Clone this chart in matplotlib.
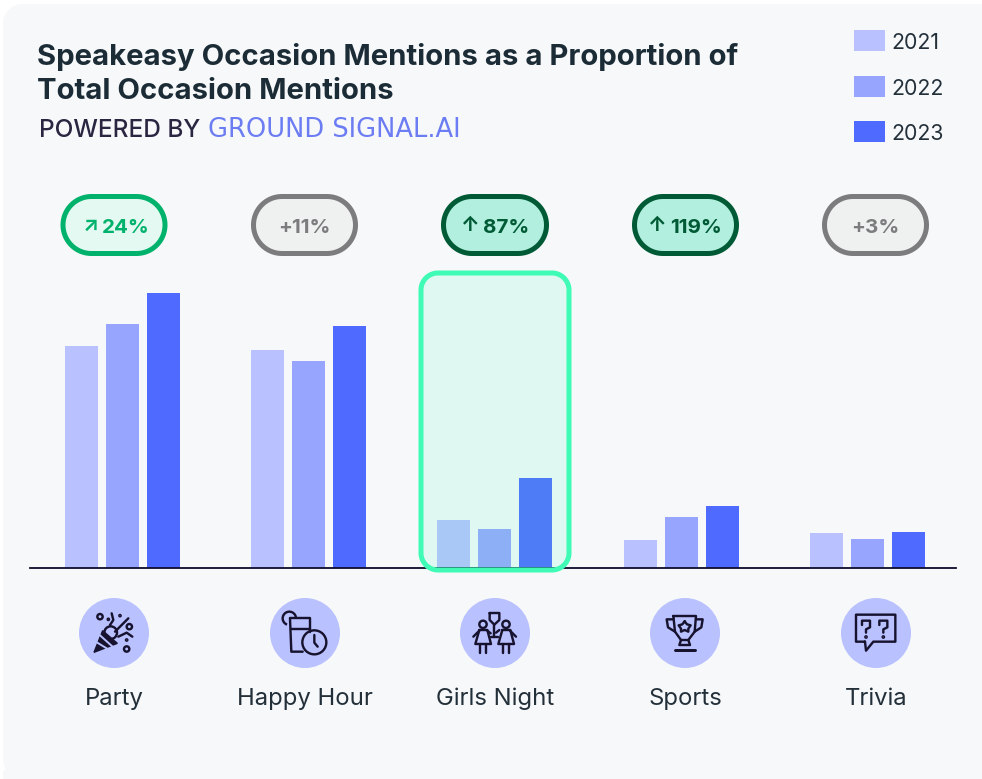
import matplotlib
matplotlib.use("Agg")
import matplotlib.pyplot as plt
import numpy as np
from matplotlib.patches import Circle, Rectangle, Polygon, Arc

plt.rcParams['font.family'] = ['Inter', 'DejaVu Sans']

# ---- data ----
categories = ["Party", "Happy Hour", "Girls Night", "Sports", "Trivia"]
years = ["2021", "2022", "2023"]
values_2021 = [22.2, 21.8, 4.8, 2.8, 3.5]
values_2022 = [24.4, 20.7, 3.9, 5.1, 2.9]
values_2023 = [27.5, 24.2, 9.0, 6.2, 3.6]
changes = ["24%", "+11%", "87%", "119%", "+3%"]
arrows = ["↗", "", "↑", "↑", ""]
title_lines = ["Speakeasy Occasion Mentions as a Proportion of", "Total Occasion Mentions"]

YEAR_COLORS = ["#b9c1ff", "#98a5ff", "#4f6bff"]
INK = "#17132f"
W, H = 982, 779
fig = plt.figure(figsize=(W / 100, H / 100), dpi=100, facecolor="white")
PX = 0.72  # points per pixel


def pixel_axes(z):
    a = fig.add_axes([0, 0, 1, 1], zorder=z)
    a.set_xlim(0, W)
    a.set_ylim(H, 0)
    a.axis("off")
    a.patch.set_alpha(0)
    return a


def round_rect(x0, y0, x1, y1, r, **kw):
    """Rounded rectangle with true circular corners."""
    t = np.linspace(0, np.pi / 2, 24)
    pts = []
    for cx, cy, a in [(x1 - r, y0 + r, -np.pi / 2), (x1 - r, y1 - r, 0),
                      (x0 + r, y1 - r, np.pi / 2), (x0 + r, y0 + r, np.pi)]:
        pts += [(cx + r * np.cos(a + s), cy + r * np.sin(a + s)) for s in t]
    return Polygon(pts, closed=True, **kw)


bg = pixel_axes(0)
bg.add_patch(round_rect(3, 4, 1040, 779, 20, fc="#f6f8fa", ec="none"))
bg.add_patch(Rectangle((3, 770), 1040, 10, fc="#f6f8fa", ec="none"))

# ---- bars, drawn through a data axes whose baseline is y=0 ----
base_y, top_y = 568, 180
left, right = 30, 956
ax = fig.add_axes([left / W, 1 - base_y / H, (right - left) / W, (base_y - top_y) / H], zorder=1)
ax.patch.set_alpha(0)
x0, step = 122.5, 186.25
ax.set_xlim((left - x0) / step, (right - x0) / step)
ax.set_ylim(0, (base_y - top_y) / 10)
for side in ("top", "left", "right"):
    ax.spines[side].set_visible(False)
ax.spines["bottom"].set_color("#0c0c2c")
ax.spines["bottom"].set_linewidth(1.5 * PX * 1.2)
ax.set_xticks([])
ax.set_yticks([])
bw = 33 / step
off = 41 / step
for k, vals in enumerate([values_2021, values_2022, values_2023]):
    ax.bar([i + (k - 1) * off for i in range(len(categories))], vals, width=bw,
           color=YEAR_COLORS[k], linewidth=0)

fg = pixel_axes(2)

# highlight box
fg.add_patch(round_rect(421, 273, 569, 570, 17,
                        fc=(63 / 255, 251 / 255, 181 / 255, 0.12), ec="#3ffbb5", lw=5 * PX))

# title
for y, line in zip([56.5, 91.5], title_lines):
    fg.text(37, y, line, fontsize=21.1, fontweight="bold", color="#1c2c36", va="center", ha="left")
fg.text(39, 130, "POWERED BY", fontsize=17.6, fontweight="medium", color="#2a2642", va="center", ha="left")
fg.text(208, 130, "GROUND SIGNAL.AI", fontsize=18.5, color="#6c7cf2", va="center", ha="left",
        family="DejaVu Sans")

# legend
for y, yr, c in zip([30, 76, 121], years, YEAR_COLORS):
    fg.add_patch(Rectangle((854, y), 31, 21, fc=c, ec="none"))
    fg.text(891, y + 13, yr, fontsize=15.3, color="#23303a", va="center", ha="left")

# pills
pill_cx = [114, 304.5, 495, 685.5, 875.5]
pill_w = [107, 107, 108, 107, 107]
text_left = [102, None, 483, 670, None]
pill_styles = [("#e5f9f3", "#00b26b"), ("#eff1f0", "#7c7c7e"), ("#b2efde", "#005a35"),
               ("#b2efde", "#005a35"), ("#eff1f0", "#7c7c7e")]
for cx, w, (fc, ec), ch, ar, tl in zip(pill_cx, pill_w, pill_styles, changes, arrows, text_left):
    fg.add_patch(round_rect(cx - w / 2 + 2.5, 196.5, cx + w / 2 - 2.5, 253.5, 28.5, fc=fc, ec=ec, lw=5 * PX))
    if tl is None:
        fg.text(cx, 228, ch, fontsize=14.8, fontweight="bold", color=ec, ha="center", va="center")
    else:
        fg.text(tl, 228, ch, fontsize=14.8, fontweight="bold", color=ec, ha="left", va="center")
        fg.text(tl - 3, 226, ar, fontsize=14.8, fontweight="bold", color=ec, ha="right", va="center")

# category circles and labels
circle_cx = [114, 305, 495, 685, 876]
for cx, name in zip(circle_cx, categories):
    fg.add_patch(Circle((cx, 633), 35, fc="#b9c1ff", ec="none"))
    fg.text(cx, 699, name, fontsize=17.2, color="#23303a", ha="center", va="center")


# icon helpers: coordinates come from the 3x crops
def L(ox, pts, lw=2.4):
    fg.plot([ox[0] + p[0] / 3 for p in pts], [ox[1] + p[1] / 3 for p in pts], color=INK,
            lw=lw * PX, solid_capstyle="round", solid_joinstyle="round")


def C(ox, p, r, fill=False, lw=2.4):
    fg.add_patch(Circle((ox[0] + p[0] / 3, ox[1] + p[1] / 3), r / 3, fc=INK if fill else "none",
                        ec=INK, lw=lw * PX))


# party popper
o = (60, 590)
fg.add_patch(Polygon([(60 + 102 / 3, 590 + 187 / 3), (60 + 128 / 3, 590 + 122 / 3), (60 + 172 / 3, 590 + 160 / 3)],
                     closed=True, fc=INK, ec=INK, lw=1))
for pts in ([(112, 158), (148, 180)], [(120, 136), (160, 172)]):
    fg.plot([60 + p[0] / 3 for p in pts], [590 + p[1] / 3 for p in pts], color="#b9c1ff", lw=1.4)
C(o, (120, 80), 8)
C(o, (208, 110), 8)
C(o, (200, 177), 8)
C(o, (152, 128), 19)
L(o, [(165, 125), (205, 85)])
L(o, [(155, 70), (160, 90), (150, 105)])
L(o, [(175, 140), (200, 128), (217, 140)])
for p in [(145, 88), (180, 77), (200, 150)]:
    C(o, p, 2, fill=True)

# glass and clock
L(o, [(690, 85), (750, 85), (750, 125)])
L(o, [(690, 85), (694, 185), (728, 185)])
L(o, [(692, 118), (750, 118)])
fg.add_patch(Arc((60 + 688 / 3, 590 + 85 / 3), 40 / 3, 40 / 3, theta1=110, theta2=360, color=INK, lw=2.4 * PX))
C(o, (763, 157), 36)
L(o, [(763, 135), (763, 158), (773, 170)])

# two women with a glass
o = (440, 590)
for dx in (0, 69):
    C(o, (129 + dx, 103), 11)
    L(o, [(118 + dx, 120), (142 + dx, 120), (153 + dx, 162), (106 + dx, 162), (118 + dx, 120)])
    L(o, [(121 + dx, 162), (121 + dx, 188)])
    L(o, [(138 + dx, 162), (138 + dx, 188)])
L(o, [(118, 122), (100, 140)])
L(o, [(142, 122), (152, 130)])
L(o, [(178, 120), (168, 128)])
L(o, [(210, 122), (228, 140)])
L(o, [(149, 69), (178, 69), (178, 90), (163, 104), (149, 90), (149, 69)])
L(o, [(163, 104), (163, 142)])
L(o, [(152, 142), (174, 142)])

# trophy
L(o, [(700, 78), (768, 78), (764, 125), (745, 150), (723, 150), (705, 125), (700, 78)])
L(o, [(700, 88), (680, 88), (684, 112), (705, 125)])
L(o, [(768, 88), (788, 88), (784, 112), (764, 125)])
L(o, [(723, 150), (718, 165), (750, 165), (745, 150)])
L(o, [(704, 180), (764, 180)], lw=3)
L(o, [(734, 94), (741, 103), (752, 106), (745, 116), (745, 125), (734, 120), (723, 125), (723, 116),
      (716, 106), (727, 103), (734, 94)])

# speech bubble
L(o, [(1275, 155), (1248, 155), (1248, 74), (1366, 74), (1366, 155), (1300, 155), (1278, 182), (1275, 155)])
for dx in (0, 52):
    L(o, [(1266 + dx, 105), (1266 + dx, 92), (1290 + dx, 92), (1290 + dx, 112), (1278 + dx, 118), (1278 + dx, 128)])
    C(o, (1278 + dx, 141), 2, fill=True)

fg.set_xlim(0, W)
fg.set_ylim(H, 0)
fig.savefig("out.png", dpi=100, facecolor="white")
